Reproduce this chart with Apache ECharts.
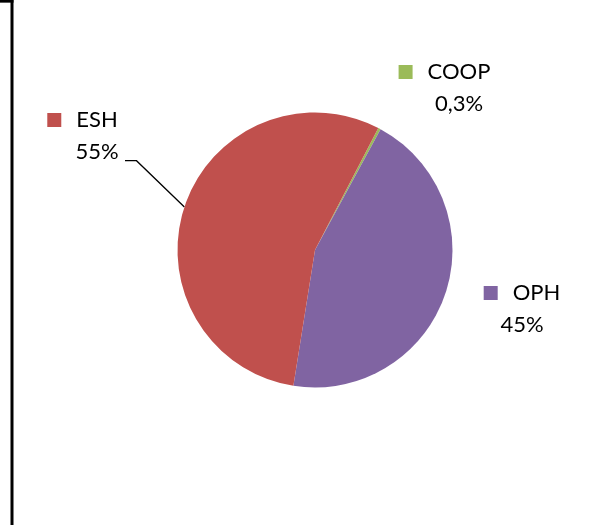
<!DOCTYPE html>
<html>
<head>
<meta charset="utf-8">
<script src="https://cdn.jsdelivr.net/npm/echarts@6/dist/echarts.min.js"></script>
<style>
html,body{margin:0;padding:0;background:#fff;}
#chart{width:593px;height:525px;}
</style>
</head>
<body>
<div id="chart"></div>
<script>
// Data (clockwise order from the top-right)
const categories = ['COOP', 'OPH', 'ESH'];
const values = [0.3, 44.6, 55.1];
const colors = ['#9BBB59', '#8064A2', '#C0504D'];

function pctText(v) {
  if (v < 1) return String(v).replace('.', ',') + '%';
  return Math.round(v) + '%';
}

const labelPos = {
  COOP: [459, 88],
  OPH: [522, 309],
  ESH: [97, 136]
};

const chart = echarts.init(document.getElementById('chart'));
const rich = {
  gap: { width: 15 },
  bal: { width: 29 },
  name: { fontSize: 22, fontFamily: 'Lato', color: '#000', lineHeight: 32 },
  pct: { fontSize: 22, fontFamily: 'Lato', color: '#000', lineHeight: 32 }
};
colors.forEach((c, i) => { rich['sq' + i] = { width: 14, height: 14, backgroundColor: c }; });

chart.setOption({
  animation: false,
  graphic: [
    { type: 'line', shape: { x1: 12, y1: 0, x2: 12, y2: 525 }, style: { stroke: '#000', lineWidth: 3 } },
    { type: 'line', shape: { x1: 0, y1: 1.3, x2: 13.5, y2: 1.3 }, style: { stroke: '#000', lineWidth: 2.7 } }
  ],
  series: [{
    type: 'pie',
    center: [315, 250],
    radius: 137.5,
    startAngle: 62.6,
    clockwise: true,
    silent: true,
    label: {
      show: true,
      position: 'outside',
      align: 'center',
      formatter: function (p) {
        return '{sq' + p.dataIndex + '|}{gap|}{name|' + p.name + '}{bal|}\n{pct|' + pctText(p.value) + '}';
      },
      rich: rich
    },
    labelLine: { show: true, lineStyle: { color: '#000', width: 1.3 }, smooth: false },
    labelLayout: function (params) {
      const name = categories[params.dataIndex];
      const pos = labelPos[name];
      const out = { x: pos[0], y: pos[1], align: 'center', verticalAlign: 'middle' };
      if (name === 'ESH' && params.labelLinePoints) {
        const p0 = params.labelLinePoints[0];
        out.labelLinePoints = [[p0[0], p0[1]], [136.5, 160.7], [125, 160.7]];
      }
      return out;
    },
    data: categories.map((n, i) => ({
      name: n,
      value: values[i],
      itemStyle: { color: colors[i] },
      labelLine: { show: n === 'ESH' }
    }))
  }]
});
</script>
</body>
</html>
